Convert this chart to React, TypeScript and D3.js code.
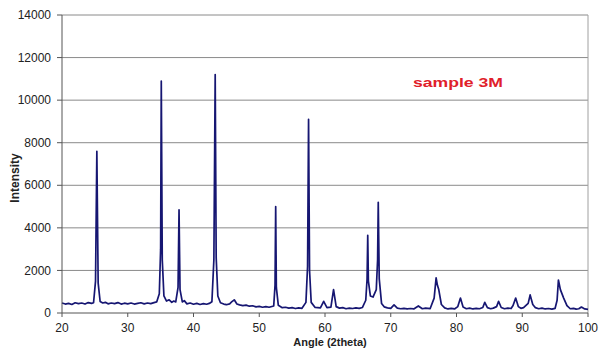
import * as d3 from 'd3';

// XRD pattern: angle (2theta) and intensity
const angle = [
    20, 20.5, 21, 21.5, 22, 22.5, 23, 23.5, 24, 24.5, 24.8, 25.1, 25.3, 25.5, 25.8, 26.2, 26.6, 27, 27.5,
    28, 28.5, 29, 29.5, 30, 30.5, 31, 31.5, 32, 32.5, 33, 33.5, 34, 34.4, 34.8, 35.0, 35.1, 35.25, 35.5,
    35.9, 36.3, 36.7, 37, 37.3, 37.65, 37.8, 37.95, 38.3, 38.6, 39, 39.5, 40, 40.5, 41, 41.5, 42, 42.4,
    42.8, 43.1, 43.3, 43.45, 43.7, 44.1, 44.6, 45, 45.5, 45.8, 46.2, 46.6, 47, 47.5, 48, 48.5, 49, 49.5,
    50, 50.5, 51, 51.5, 52.2, 52.4, 52.5, 52.6, 52.9, 53.5, 54, 54.5, 55, 55.5, 56, 56.5, 57.1, 57.35,
    57.5, 57.65, 57.9, 58.5, 59.3, 59.8, 60.3, 60.9, 61.3, 61.7, 62.2, 62.7, 63.2, 63.7, 64.2, 64.7,
    65.2, 65.7, 66.2, 66.4, 66.5, 66.6, 66.9, 67.3, 67.8, 68.0, 68.1, 68.25, 68.6, 69, 69.5, 70, 70.5,
    71, 71.5, 72, 72.5, 73, 73.5, 74.2, 74.8, 75.3, 76, 76.6, 76.9, 77.1, 77.3, 77.7, 78.2, 78.7, 79.2,
    79.7, 80.2, 80.6, 81, 81.5, 82, 82.5, 83, 83.5, 84, 84.3, 84.7, 85.2, 85.6, 86.1, 86.4, 86.8, 87.3,
    87.8, 88.3, 88.6, 89, 89.4, 89.8, 90.2, 90.9, 91.2, 91.6, 92, 92.5, 93, 93.5, 94, 94.5, 95, 95.3,
    95.5, 95.8, 96.3, 96.8, 97.3, 97.8, 98.2, 98.6, 99, 99.5, 100,
];
const intensity = [
    470, 420, 450, 400, 480, 440, 470, 420, 490, 450, 480, 1500, 7600, 1400, 540, 470, 500, 430, 470,
    440, 490, 420, 460, 430, 470, 420, 450, 480, 430, 470, 440, 490, 520, 900, 3000, 10900, 2500, 800,
    560, 620, 500, 560, 520, 1200, 4850, 1100, 520, 580, 430, 470, 410, 450, 400, 440, 410, 450,
    530, 2500, 11200, 2600, 800, 480, 420, 390, 430, 520, 620, 420, 380, 350, 370, 320, 340, 290,
    310, 270, 300, 270, 330, 1300, 5000, 1200, 360, 250, 270, 230, 250, 210, 240, 220, 500, 2200,
    9100, 2000, 500, 260, 240, 550, 250, 280, 1100, 300, 230, 250, 200, 230, 210, 240,
    220, 260, 600, 1600, 3650, 1500, 800, 750, 1100, 2500, 5200, 1600, 450, 290, 240, 220, 380,
    230, 200, 220, 190, 210, 190, 330, 200, 230, 210, 700, 1650, 1300, 1100, 400, 240, 190, 220,
    190, 300, 700, 280, 200, 230, 190, 220, 200, 260, 500, 250, 200, 230, 300, 550, 260, 200,
    230, 210, 350, 700, 300, 220, 250, 450, 850, 400, 250, 200, 230, 190, 210, 180, 220, 600, 1550,
    1100, 700, 350, 200, 220, 180, 200, 280, 190, 170, 180,
];

const xTicks = [20, 30, 40, 50, 60, 70, 80, 90, 100];
const yTicks = [0, 2000, 4000, 6000, 8000, 10000, 12000, 14000];

const W = 600;
const H = 350;
const margin = { top: 15, right: 12, bottom: 37, left: 62 };

export default function App() {
    const x = d3.scaleLinear().domain([20, 100]).range([margin.left, W - margin.right]);
    const y = d3.scaleLinear().domain([0, 14000]).range([H - margin.bottom, margin.top]);

    const pts = angle.map((a, i) => [a, intensity[i]] as [number, number]);
    const line = d3.line<[number, number]>()
        .x(d => x(d[0]))
        .y(d => y(d[1]));

    const font = 'Liberation Sans, Arial, sans-serif';

    return (
        <svg width={W} height={H} style={{ position: 'absolute', left: 0, top: 0, background: '#fff' }}>
            {/* grid */}
            {yTicks.filter(t => t > 0).map(t => (
                <line key={'g' + t} x1={x(20)} x2={x(100)} y1={y(t)} y2={y(t)} stroke="#8a8a8a" strokeWidth={1} />
            ))}
            <line x1={x(100)} x2={x(100)} y1={y(14000)} y2={y(0)} stroke="#a0a0a0" strokeWidth={1} />

            {/* data */}
            <path d={line(pts) || ''} fill="none" stroke="#161672" strokeWidth={1.7} strokeLinejoin="round" />

            {/* y axis */}
            <line x1={x(20)} x2={x(20)} y1={y(14000)} y2={y(0)} stroke="#555" strokeWidth={1} />
            {yTicks.map(t => (
                <g key={'y' + t}>
                    <line x1={x(20) - 5} x2={x(20)} y1={y(t)} y2={y(t)} stroke="#555" />
                    <text x={51} y={y(t)} dy="0.35em" textAnchor="end" fontFamily={font} fontSize={12} fill="#222">{t}</text>
                </g>
            ))}

            {/* x axis */}
            <line x1={x(20)} x2={x(100)} y1={y(0)} y2={y(0)} stroke="#555" strokeWidth={1} />
            {xTicks.map(t => (
                <g key={'x' + t}>
                    <line x1={x(t)} x2={x(t)} y1={y(0)} y2={y(0) + 4} stroke="#555" />
                    <text x={x(t)} y={y(0) + 19} textAnchor="middle" fontFamily={font} fontSize={12} fill="#222">{t}</text>
                </g>
            ))}

            <text x={330} y={346} textAnchor="middle" fontFamily={font} fontSize={11} fontWeight="bold" fill="#222">Angle (2theta)</text>
            <text transform={`translate(19,${178}) rotate(-90)`} textAnchor="middle" fontFamily={font} fontSize={12} fontWeight="bold" fill="#222">Intensity</text>
            <text x={413} y={87} fontFamily={font} fontSize={13} fontWeight="bold" fill="#e0202a" textLength={90} lengthAdjust="spacingAndGlyphs">sample 3M</text>
        </svg>
    );
}
